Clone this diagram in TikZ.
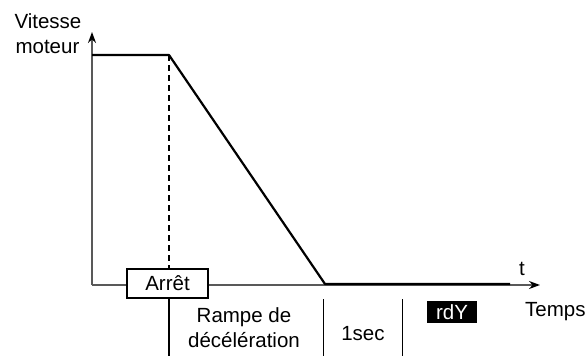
\documentclass[tikz,border=0pt]{standalone}
\usepackage{fontspec}
\setmainfont{Liberation Sans}
\usetikzlibrary{arrows.meta}
\begin{document}
\begin{tikzpicture}[x=1pt, y=-1pt, >={Stealth[length=11pt,width=8pt,color=black]}, font=\fontsize{20.5}{24}\selectfont]
    \useasboundingbox (0,0) rectangle (587,356);
    \coordinate (O) at (92,285);
    \coordinate (ytop) at (92,32);
    \coordinate (xend) at (540,285);
    \coordinate (hold) at (92,55);
    \coordinate (brake) at (169,55);
    \coordinate (zero) at (325,284);
    \coordinate (stopend) at (510,284);
    \coordinate (lowend) at (169,356);
    \draw[line width=1.6pt, black!65, ->] (O) -- (ytop);
    \draw[line width=1.6pt, black!65, ->] (O) -- (xend);
    \draw[line width=2.2pt, line join=round] (hold) -- (brake) -- (zero) -- (stopend);
    \node[draw, fill=white, line width=1.8pt, minimum width=81, minimum height=29, inner sep=0pt] (arret) at (167.5,283.5) {Arrêt};
    \draw[line width=2pt, dash pattern=on 6pt off 4pt] (brake) -- (brake |- arret.north);
    \draw[line width=1.8pt] (arret.south -| brake) -- (lowend);
    \foreach \xd [count=\i] in {323,402} {\draw[line width=1pt] (\xd,299) coordinate (div\i) -- (\xd,356) coordinate (divb\i);}
    \node[anchor=base west] (vit) at (11,28) {Vitesse};
    \node[anchor=base west] (mot) at (12,53) {moteur};
    \node[anchor=base] (tlab) at (522,275) {t};
    \node[anchor=base west, inner sep=0pt] (temps) at (525,316) {Temps};
    \node[anchor=base] (rampe) at (244,322) {Rampe de};
    \node[anchor=base] (decel) at (244,347) {décélération};
    \node[anchor=base] (sec) at (363,340) {1sec};
    \node[fill=black, text=white, minimum width=50, minimum height=22, inner sep=0pt] (rdy) at (452,312) {rdY};
\end{tikzpicture}
\end{document}
